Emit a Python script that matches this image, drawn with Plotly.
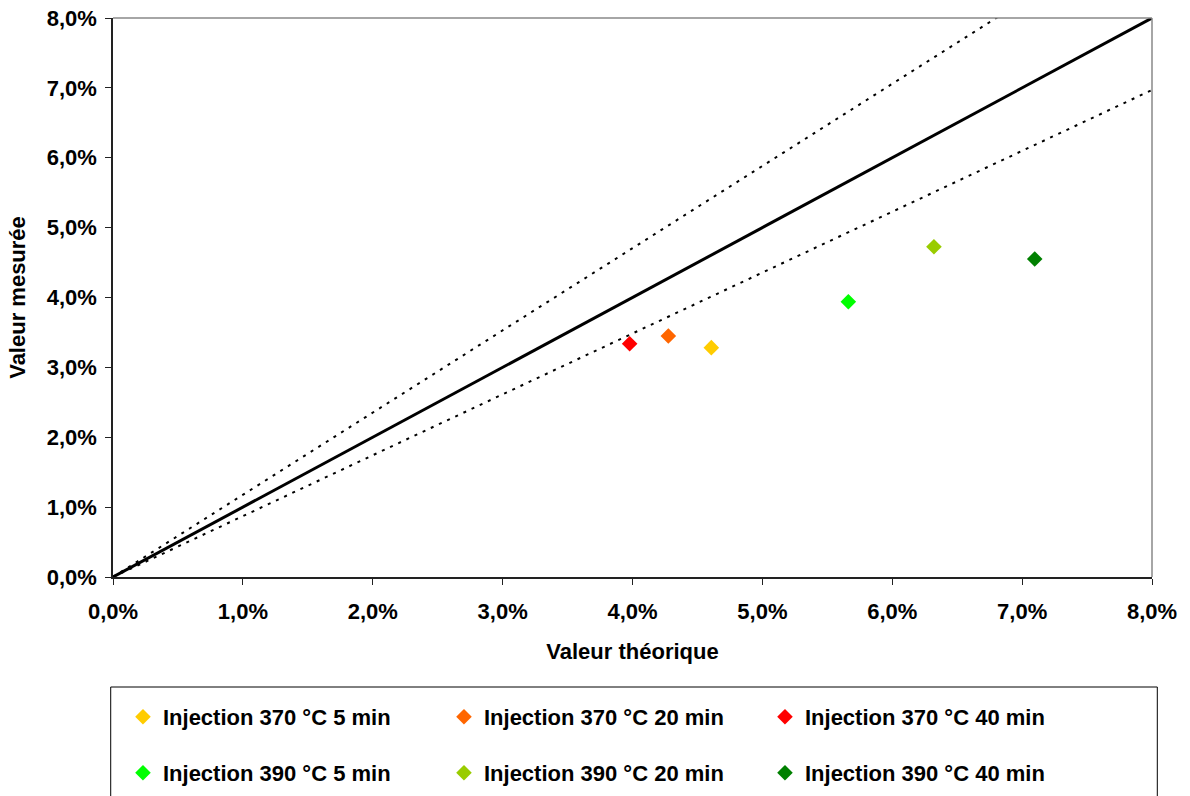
import plotly.graph_objects as go

# ---- data (fractions) ----
series_names = [
    "Injection 370 °C 5 min", "Injection 370 °C 20 min", "Injection 370 °C 40 min",
    "Injection 390 °C 5 min", "Injection 390 °C 20 min", "Injection 390 °C 40 min",
]
series_colors = ["#FFCC00", "#FF6600", "#FF0000", "#00FF00", "#99CC00", "#008000"]
x_theo = [0.04607, 0.04276, 0.03978, 0.05662, 0.06321, 0.07097]
y_meas = [0.03282, 0.03449, 0.03339, 0.03940, 0.04727, 0.04551]

ref_x = [0.0, 0.08]
ref_y = [0.0, 0.08]
upper_x = [0.0, 0.0686]
upper_y = [0.0, 0.0807]
lower_x = [0.0, 0.08]
lower_y = [0.0, 0.0697]

tick_vals = [0.0, 0.01, 0.02, 0.03, 0.04, 0.05, 0.06, 0.07, 0.08]

FONT = "Liberation Sans, Arial, sans-serif"
FS = 22

fig = go.Figure()

fig.add_trace(go.Scatter(x=upper_x, y=upper_y, mode="lines", showlegend=False,
                         line=dict(color="black", width=2, dash="3px,6px"), hoverinfo="skip"))
fig.add_trace(go.Scatter(x=lower_x, y=lower_y, mode="lines", showlegend=False,
                         line=dict(color="black", width=2, dash="3px,6px"), hoverinfo="skip"))
fig.add_trace(go.Scatter(x=ref_x, y=ref_y, mode="lines", showlegend=False,
                         line=dict(color="black", width=3), hoverinfo="skip"))

for i, (n, c, xv, yv) in enumerate(zip(series_names, series_colors, x_theo, y_meas)):
    fig.add_trace(go.Scatter(
        x=[xv], y=[yv], mode="markers", name=n,
        marker=dict(symbol="diamond", size=12, color=c, line=dict(width=0)),
        legend="legend" if i < 3 else "legend2",
        cliponaxis=False,
    ))

axis_common = dict(
    range=[0, 0.08], tickvals=tick_vals, tickformat=".1%",
    showgrid=False, zeroline=False, showline=True, linecolor="#222222", linewidth=1.5,
    ticks="outside", ticklen=6, tickcolor="#222222", tickwidth=1.2,
    tickfont=dict(family=FONT, size=FS, color="black", weight="bold"),
    automargin=False,
)

leg_common = dict(orientation="h", x=0.0096, xanchor="left", yanchor="middle",
                  entrywidth=276, entrywidthmode="pixels", bgcolor="rgba(0,0,0,0)",
                  itemsizing="constant",
                  font=dict(family=FONT, size=FS, color="black", weight="bold"))

fig.update_layout(
    width=1190, height=796,
    margin=dict(l=113, r=38, t=18, b=219, autoexpand=False),
    paper_bgcolor="white", plot_bgcolor="white",
    separators=", ",
    font=dict(family=FONT, size=FS, color="black", weight="bold"),
    xaxis=dict(**axis_common, ticklabelstandoff=8,
               title=dict(text="Valeur théorique", standoff=20,
                          font=dict(family=FONT, size=FS, color="black", weight="bold"))),
    yaxis=dict(**axis_common, ticklabelstandoff=4,
               title=dict(text="Valeur mesurée", standoff=15,
                          font=dict(family=FONT, size=FS, color="black", weight="bold"))),
    legend=dict(**leg_common, y=-0.2504),
    legend2=dict(**leg_common, y=-0.3506),
    shapes=[
        dict(type="line", xref="paper", yref="paper", x0=0, x1=1, y0=1, y1=1,
             line=dict(color="#888888", width=1.5)),
        dict(type="line", xref="paper", yref="paper", x0=1, x1=1, y0=0, y1=1,
             line=dict(color="#888888", width=1.5)),
        dict(type="rect", xref="paper", yref="paper", x0=-0.0022, x1=1.0051,
             y0=-0.46, y1=-0.1968, line=dict(color="black", width=1), layer="below"),
    ],
)

fig.write_html("out.html", config={"displayModeBar": False},
               post_script="document.body.style.margin='0';")
